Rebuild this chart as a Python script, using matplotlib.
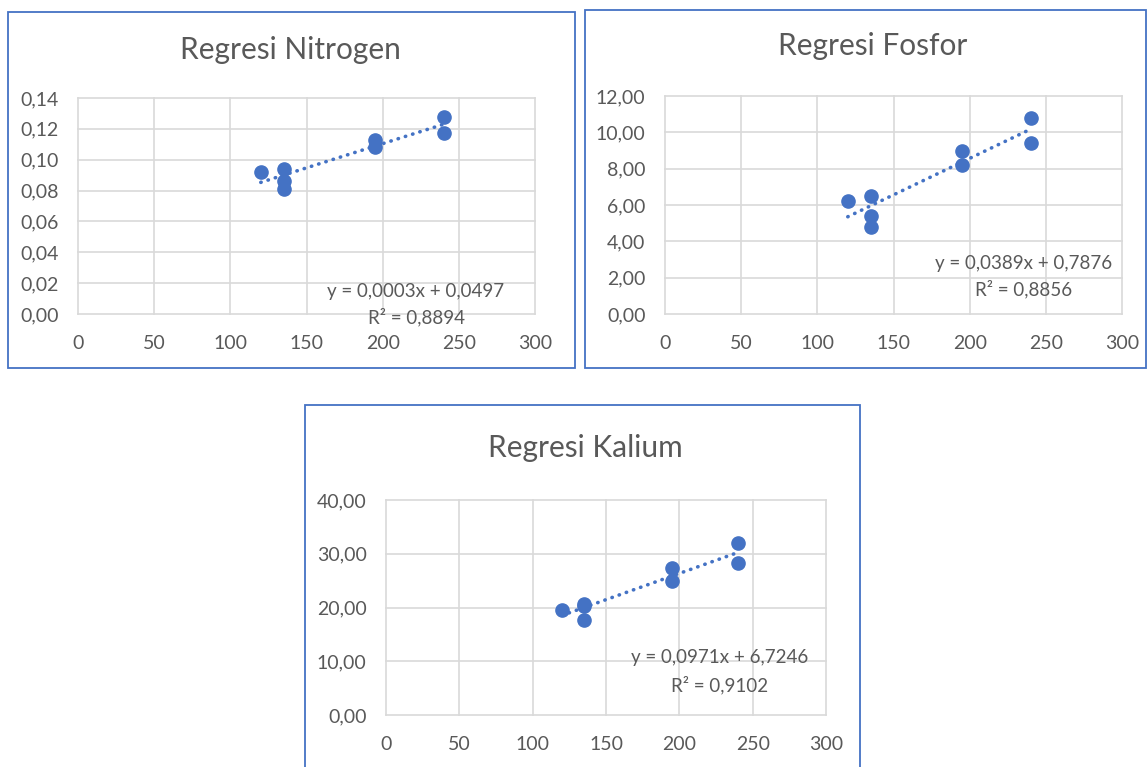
import numpy as np
import matplotlib
matplotlib.use('Agg')
import matplotlib.pyplot as plt
from matplotlib.patches import Rectangle
from matplotlib.ticker import FuncFormatter, MultipleLocator

W, H = 1148, 767
BLUE = '#4472C4'
GREY = '#595959'
GRID = '#D9D9D9'

plt.rcParams['font.family'] = ['Lato', 'DejaVu Sans']

dose = [120, 135, 135, 135, 195, 195, 240, 240]
nitrogen = [0.092, 0.094, 0.086, 0.081, 0.113, 0.108, 0.128, 0.117]
fosfor = [6.2, 6.5, 5.4, 4.8, 9.0, 8.2, 10.8, 9.4]
kalium = [19.6, 20.7, 20.2, 17.6, 27.3, 25.0, 32.0, 28.3]

x_ticks = [0, 50, 100, 150, 200, 250, 300]


def fx(x):
    return x / W


def fy(y):
    return 1 - y / H


def comma(v, pos=None):
    return f'{v:.2f}'.replace('.', ',')


def panel(fig, box, plot, title, title_xy, y, ymax, ystep, eq, r2, eq_xy, gap):
    # outer chart frame
    l, t, r, b = box
    fig.patches.append(Rectangle((fx(l), fy(b)), fx(r - l), (b - t) / H,
                                 transform=fig.transFigure, fill=False,
                                 edgecolor=BLUE, linewidth=1.3, zorder=0))
    pl, pt, pr, pb = plot
    ax = fig.add_axes([fx(pl), fy(pb), fx(pr - pl), (pb - pt) / H])
    for s in ax.spines.values():
        s.set_visible(False)
    ax.set_xlim(0, 300)
    ax.set_ylim(0, ymax)
    ax.set_xticks(x_ticks)
    ax.yaxis.set_major_locator(MultipleLocator(ystep))
    ax.yaxis.set_major_formatter(FuncFormatter(comma))
    ax.grid(True, color=GRID, linewidth=1.2, clip_on=False)
    ax.set_axisbelow(True)
    ax.tick_params(length=0, labelsize=14, labelcolor=GREY)
    ax.tick_params(axis='y', pad=14)
    ax.tick_params(axis='x', pad=15)

    ax.plot(dose, y, 'o', color=BLUE, markersize=9.5, zorder=3, clip_on=False)
    k, c = np.polyfit(dose, y, 1)
    xs = np.array([min(dose), max(dose)])
    ax.plot(xs, k * xs + c, color=BLUE, linewidth=2.6,
            linestyle=(0, (0.1, 2.0)), dash_capstyle='round', zorder=4)

    fig.text(fx(title_xy[0]), fy(title_xy[1]), title, ha='center', va='center',
             fontsize=21.5, color=GREY)
    fig.text(fx(eq_xy[0]), fy(eq_xy[1]), eq, ha='center', va='center',
             fontsize=13.5, color=GREY)
    fig.text(fx(eq_xy[0]), fy(eq_xy[1] + gap), r2, ha='center', va='center',
             fontsize=13.5, color=GREY)
    return ax


fig = plt.figure(figsize=(W / 100, H / 100), dpi=100)

panel(fig, (8, 12, 575, 368), (78, 98, 535, 314), 'Regresi Nitrogen', (290, 50),
      nitrogen, 0.14, 0.02, 'y = 0,0003x + 0,0497', 'R² = 0,8894', (416, 291), 26)
panel(fig, (585, 10, 1146, 368), (665, 96, 1122, 314), 'Regresi Fosfor', (873, 46),
      fosfor, 12, 2, 'y = 0,0389x + 0,7876', 'R² = 0,8856', (1024, 264), 25)
panel(fig, (305, 405, 860, 770), (386, 500, 826, 715), 'Regresi Kalium', (585, 448),
      kalium, 40, 10, 'y = 0,0971x + 6,7246', 'R² = 0,9102', (720, 657), 28)

fig.savefig('out.png', dpi=100)
